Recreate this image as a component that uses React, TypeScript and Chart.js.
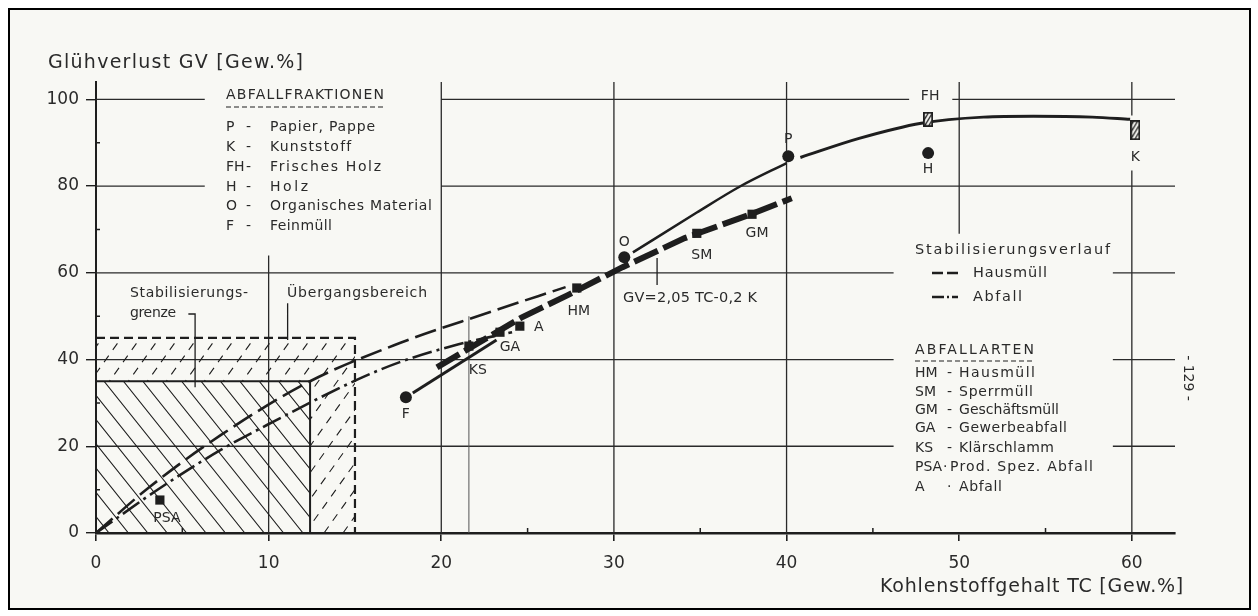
import React, { useEffect, useRef } from 'react';
import { Chart, registerables } from 'chart.js';
Chart.register(...registerables);

const FONT = '"DejaVu Sans", "Liberation Sans", sans-serif';
const INK = '#1e1e1e';
const TEXT = '#2a2a2a';
const PAPER = '#f8f8f4';

// ---- axes ----
const X_MAX = 62.5;
const Y_MAX = 104;
const X_TICKS = [0, 10, 20, 30, 40, 50, 60];
const Y_TICKS = [0, 20, 40, 60, 80, 100];
const X_MINOR = [5, 15, 25, 35, 45, 55];
const Y_MINOR = [10, 30, 50, 70, 90];

// ---- markers ----
const CIRCLE_NAMES = ['P', 'H', 'O', 'F'];
const CIRCLE_TC = [40.1, 48.2, 30.6, 17.95];
const CIRCLE_GV = [86.9, 87.6, 63.6, 31.3];

const SQUARE_NAMES = ['HM', 'SM', 'GM', 'GA', 'A', 'KS', 'PSA'];
const SQUARE_TC = [27.85, 34.8, 38.0, 23.4, 24.55, 21.6, 3.7];
const SQUARE_GV = [56.5, 69.1, 73.5, 46.3, 47.7, 43.1, 7.6];

const HATCH_NAMES = ['FH', 'K'];
const HATCH_TC = [48.2, 60.2];
const HATCH_GV = [95.4, 92.9];

// ---- curves ----
const HAUS_TC = [0, 3.1, 7.2, 12.4, 17.6, 22.4, 27.2];
const HAUS_GV = [0, 10.6, 22.5, 35, 43.8, 50.4, 56.7];

const ABF_TC = [0, 3.5, 7.2, 9.9, 15.1, 17.6, 21, 24.1];
const ABF_GV = [0, 9.8, 19.1, 24.9, 35.3, 39.4, 43.5, 46.3];

const REG_TC = [19.75, 21.25, 24.7, 27.3, 30.5, 34.1, 38, 40.3];
const REG_GV = [38.2, 41.7, 49.8, 54.8, 61.3, 68.0, 73.6, 77.2];

const FGA_TC = [18.35, 23.2];
const FGA_GV = [32.3, 44.5];

const OP_TC = [31.1, 34.8, 37.3, 40.0];
const OP_GV = [64.7, 73.9, 79.9, 85.3];

const PK_TC = [40.8, 44.2, 47.8, 51.4, 54.3, 57.7, 59.9];
const PK_GV = [86.6, 91, 94.5, 95.9, 96.1, 95.9, 95.4];

// ---- regions (TC, GV) ----
const STAB_LIMIT = [12.4, 35];
const TRANS_LIMIT = [15, 45];

// ---- grid segments ----
const H_GRID = [
  [100, 0, 6.3], [100, 20, 47.1], [100, 49.6, 62.5],
  [80, 0, 6.3], [80, 20, 62.5],
  [60, 0, 46.2], [60, 58.9, 62.5],
  [40, 0, 46.2], [40, 58.9, 62.5],
  [20, 0, 46.2], [20, 58.9, 62.5],
];
const V_GRID = [
  [10, 0, 64], [20, 0, 104], [30, 0, 104], [40, 0, 104],
  [50, 69, 104], [60, 0, 83.6], [60, 96.3, 104],
];
const LEADERS = [
  [[5.35, 50.5], [5.74, 50.5], [5.74, 33.6]],
  [[11.1, 53], [11.1, 44.5]],
  [[32.5, 63.4], [32.5, 57.2]],
];
const KS_DROP = [[21.6, 50], [21.6, 0]];

// ---- texts ----
const LABEL_OFFSET: Record<string, number[]> = {
  P: [0, -17], H: [0, 16], O: [0, -15], F: [0, 17],
  HM: [2, 23], SM: [5, 22], GM: [5, 19], GA: [10, 15], A: [19, 1], KS: [9, 24], PSA: [7, 18],
  FH: [2, -23], K: [0, 27],
};

const FRAK_KEYS = ['P', 'K', 'FH', 'H', 'O', 'F'];
const FRAK_DESC = ['Papier, Pappe', 'Kunststoff', 'Frisches Holz', 'Holz', 'Organisches Material', 'Feinmüll'];
const FRAK_W = [105, 81, 111, 38, 162, 62];
const FRAK_Y = [127, 147, 167, 187, 206, 226];

const ART_KEYS = ['HM', 'SM', 'GM', 'GA', 'KS', 'PSA', 'A'];
const ART_DESC = ['Hausmüll', 'Sperrmüll', 'Geschäftsmüll', 'Gewerbeabfall', 'Klärschlamm', 'Prod. Spez. Abfall', 'Abfall'];
const ART_W = [76, 74, 100, 108, 95, 143, 43];
const ART_Y = [373, 392, 410, 428, 448, 467, 487];

function fitText(ctx: any, text: string, x: number, y: number, w: number | null, size: number) {
  ctx.font = `${size}px ${FONT}`;
  ctx.letterSpacing = '0px';
  ctx.textAlign = 'left';
  ctx.textBaseline = 'middle';
  ctx.fillStyle = TEXT;
  if (w) {
    const n = Array.from(text).length;
    const w0 = ctx.measureText(text).width;
    let ls = n > 1 ? (w - w0) / (n - 1) : 0;
    ls = Math.max(-1.5, Math.min(5, ls));
    ctx.letterSpacing = ls + 'px';
  }
  ctx.fillText(text, x, y);
  ctx.letterSpacing = '0px';
}

function hatchCanvas(w: number, h: number) {
  const c = document.createElement('canvas');
  c.width = w; c.height = h;
  const g = c.getContext('2d')!;
  g.fillStyle = PAPER; g.fillRect(0, 0, w, h);
  g.strokeStyle = INK; g.lineWidth = 1.3;
  for (let k = -h; k < w + h; k += 4) {
    g.beginPath(); g.moveTo(k, h); g.lineTo(k + h * 0.6, 0); g.stroke();
  }
  g.lineWidth = 1.8; g.strokeRect(0.9, 0.9, w - 1.8, h - 1.8);
  return c;
}

const pts = (xs: number[], ys: number[]) => xs.map((x, i) => ({ x, y: ys[i] }));

export default function App() {
  const ref = useRef<HTMLCanvasElement>(null);
  useEffect(() => {
    const hatchImgs = [hatchCanvas(10, 15), hatchCanvas(10, 20)];

    const paper = {
      id: 'paper',
      beforeDraw(chart: any) {
        const ctx = chart.ctx;
        ctx.save();
        ctx.fillStyle = '#ffffff';
        ctx.fillRect(0, 0, chart.width, chart.height);
        ctx.fillStyle = PAPER;
        ctx.fillRect(9, 9, 1241, 600);
        ctx.strokeStyle = '#000';
        ctx.lineWidth = 2;
        ctx.strokeRect(9, 9, 1241, 600);
        ctx.restore();
      },
    };

    const annot = {
      id: 'annot',
      beforeDatasetsDraw(chart: any) {
        const ctx = chart.ctx;
        const xs = chart.scales.x, ys = chart.scales.y;
        const X = (v: number) => xs.getPixelForValue(v);
        const Y = (v: number) => ys.getPixelForValue(v);
        ctx.save();
        // grid
        ctx.strokeStyle = '#2a2a2a';
        ctx.lineWidth = 1.3;
        ctx.beginPath();
        H_GRID.forEach(([y, a, b]) => { ctx.moveTo(X(a), Y(y)); ctx.lineTo(X(b), Y(y)); });
        V_GRID.forEach(([x, a, b]) => { ctx.moveTo(X(x), Y(a)); ctx.lineTo(X(x), Y(b)); });
        ctx.stroke();
        ctx.lineWidth = 1;
        ctx.strokeStyle = '#555';
        ctx.beginPath();
        ctx.moveTo(X(KS_DROP[0][0]), Y(KS_DROP[0][1]));
        ctx.lineTo(X(KS_DROP[1][0]), Y(KS_DROP[1][1]));
        ctx.stroke();

        // hatched regions
        const x0 = X(0), x1 = X(STAB_LIMIT[0]), x2 = X(TRANS_LIMIT[0]);
        const yb = Y(0), y35 = Y(STAB_LIMIT[1]), y45 = Y(TRANS_LIMIT[1]);
        ctx.strokeStyle = INK;
        ctx.save();
        ctx.beginPath(); ctx.rect(x0, y35, x1 - x0, yb - y35); ctx.clip();
        ctx.lineWidth = 1.1;
        ctx.beginPath();
        const hIn = yb - y35;
        for (let k = -30; k < 30; k++) {
          const sx = x0 + 8 + k * 19.4;
          ctx.moveTo(sx, y35); ctx.lineTo(sx + hIn / 1.25, yb);
        }
        ctx.stroke();
        ctx.restore();

        ctx.save();
        ctx.beginPath();
        ctx.rect(x0, y45, x2 - x0, yb - y45);
        ctx.rect(x0, y35, x1 - x0, yb - y35);
        ctx.clip('evenodd');
        ctx.lineWidth = 1.1;
        ctx.setLineDash([8, 7]);
        ctx.beginPath();
        const hOut = yb - y45;
        for (let k = -20; k < 30; k++) {
          const sx = x0 + k * 19;
          ctx.moveTo(sx, yb); ctx.lineTo(sx + hOut / 1.4, y45);
        }
        ctx.stroke();
        ctx.restore();

        ctx.lineWidth = 2;
        ctx.beginPath();
        ctx.moveTo(x0, y35); ctx.lineTo(x1, y35); ctx.lineTo(x1, yb);
        ctx.stroke();
        ctx.setLineDash([9, 5]);
        ctx.lineWidth = 2.2;
        ctx.beginPath();
        ctx.moveTo(x0, y45); ctx.lineTo(x2, y45); ctx.lineTo(x2, yb);
        ctx.stroke();
        ctx.setLineDash([]);

        // leaders
        ctx.lineWidth = 1.3;
        ctx.beginPath();
        LEADERS.forEach((seg) => {
          seg.forEach(([a, b], i) => (i === 0 ? ctx.moveTo(X(a), Y(b)) : ctx.lineTo(X(a), Y(b))));
        });
        ctx.stroke();

        // minor ticks
        ctx.lineWidth = 1.5;
        ctx.beginPath();
        X_MINOR.forEach((v) => { ctx.moveTo(X(v), Y(0)); ctx.lineTo(X(v), Y(0) - 5); });
        Y_MINOR.forEach((v) => { ctx.moveTo(X(0), Y(v)); ctx.lineTo(X(0) + 4, Y(v)); });
        ctx.stroke();
        ctx.restore();
      },
      afterDatasetsDraw(chart: any) {
        const ctx = chart.ctx;
        const xs = chart.scales.x, ys = chart.scales.y;
        const X = (v: number) => xs.getPixelForValue(v);
        const Y = (v: number) => ys.getPixelForValue(v);
        ctx.save();
        // point labels
        ctx.font = `14px ${FONT}`;
        ctx.fillStyle = TEXT;
        ctx.textAlign = 'center';
        ctx.textBaseline = 'middle';
        const lab = (names: string[], tx: number[], gv: number[]) =>
          names.forEach((n, i) => {
            const o = LABEL_OFFSET[n] || [0, 0];
            ctx.fillText(n, X(tx[i]) + o[0], Y(gv[i]) + o[1]);
          });
        lab(CIRCLE_NAMES, CIRCLE_TC, CIRCLE_GV);
        lab(SQUARE_NAMES, SQUARE_TC, SQUARE_GV);
        lab(HATCH_NAMES, HATCH_TC, HATCH_GV);

        // titles
        fitText(ctx, 'Glühverlust GV [Gew.%]', 48, 63, 255, 19);
        fitText(ctx, 'Kohlenstoffgehalt TC [Gew.%]', 880, 587, 303, 19);

        // in-plot texts
        fitText(ctx, 'Stabilisierungs-', 130, 293, 118, 14);
        fitText(ctx, 'grenze', 130, 313, 46, 14);
        fitText(ctx, 'Übergangsbereich', 287, 293, 140, 14);
        fitText(ctx, 'GV=2,05 TC-0,2 K', 623, 298, 134, 14.5);

        // legend: Abfallfraktionen
        fitText(ctx, 'ABFALLFRAKTIONEN', 226, 95, 158, 14);
        ctx.strokeStyle = INK;
        ctx.lineWidth = 1.2;
        ctx.setLineDash([5, 3]);
        ctx.beginPath(); ctx.moveTo(226, 107); ctx.lineTo(386, 107);
        ctx.moveTo(915, 361); ctx.lineTo(1034, 361); ctx.stroke();
        ctx.setLineDash([]);
        FRAK_KEYS.forEach((k, i) => {
          fitText(ctx, k, 226, FRAK_Y[i], null, 14);
          fitText(ctx, '-', 246, FRAK_Y[i], null, 14);
          fitText(ctx, FRAK_DESC[i], 270, FRAK_Y[i], FRAK_W[i], 14);
        });

        // legend: Stabilisierungsverlauf
        fitText(ctx, 'Stabilisierungsverlauf', 915, 250, 195, 14.5);
        ctx.lineWidth = 2.5;
        ctx.beginPath();
        ctx.moveTo(932, 273); ctx.lineTo(943, 273);
        ctx.moveTo(947, 273); ctx.lineTo(958, 273);
        ctx.moveTo(932, 297); ctx.lineTo(944, 297);
        ctx.moveTo(947, 297); ctx.lineTo(949, 297);
        ctx.moveTo(952, 297); ctx.lineTo(958, 297);
        ctx.stroke();
        fitText(ctx, 'Hausmüll', 973, 273, 74, 14.5);
        fitText(ctx, 'Abfall', 973, 297, 49, 14.5);

        // legend: Abfallarten
        fitText(ctx, 'ABFALLARTEN', 915, 350, 119, 14);
        ART_KEYS.forEach((k, i) => {
          const isP = k === 'PSA';
          fitText(ctx, k, 915, ART_Y[i], null, 14);
          fitText(ctx, isP || k === 'A' ? '·' : '-', isP ? 943 : 947, ART_Y[i], null, 14);
          fitText(ctx, ART_DESC[i], isP ? 950 : 959, ART_Y[i], ART_W[i], 14);
        });

        // page number
        ctx.translate(1188, 378);
        ctx.rotate(Math.PI / 2);
        ctx.font = `14px ${FONT}`;
        ctx.textAlign = 'center';
        ctx.fillText('- 129 -', 0, 0);
        ctx.restore();
      },
    };

    const chart = new Chart(ref.current!, {
      type: 'scatter',
      data: {
        datasets: [
          {
            data: pts(HATCH_TC, HATCH_GV),
            pointStyle: hatchImgs as any,
            pointRadius: 8,
          },
          {
            data: pts(CIRCLE_TC, CIRCLE_GV),
            pointStyle: 'circle',
            pointRadius: 6,
            backgroundColor: INK,
            borderWidth: 0,
          },
          {
            data: pts(SQUARE_TC, SQUARE_GV),
            pointStyle: 'rect',
            pointRadius: 6.5,
            backgroundColor: INK,
            borderWidth: 0,
          },
          {
            data: pts(REG_TC, REG_GV),
            showLine: true, pointRadius: 0, borderColor: INK, borderWidth: 6,
            borderDash: [26, 6], borderCapStyle: 'butt', tension: 0,
          },
          {
            data: pts(FGA_TC, FGA_GV),
            showLine: true, pointRadius: 0, borderColor: INK, borderWidth: 3,
          },
          {
            data: pts(OP_TC, OP_GV),
            showLine: true, pointRadius: 0, borderColor: INK, borderWidth: 2.5,
            cubicInterpolationMode: 'monotone',
          },
          {
            data: pts(PK_TC, PK_GV),
            showLine: true, pointRadius: 0, borderColor: INK, borderWidth: 3,
            cubicInterpolationMode: 'monotone',
          },
          {
            data: pts(HAUS_TC, HAUS_GV),
            showLine: true, pointRadius: 0, borderColor: INK, borderWidth: 2.6,
            borderDash: [22, 7], cubicInterpolationMode: 'monotone',
          },
          {
            data: pts(ABF_TC, ABF_GV),
            showLine: true, pointRadius: 0, borderColor: INK, borderWidth: 2.6,
            borderDash: [20, 5, 3, 5], cubicInterpolationMode: 'monotone',
          },
        ] as any,
      },
      options: {
        responsive: false,
        animation: false,
        devicePixelRatio: 1,
        layout: { padding: { top: 82, right: 83, left: 0, bottom: 0 } },
        plugins: { legend: { display: false }, tooltip: { enabled: false } },
        scales: {
          x: {
            type: 'linear', min: 0, max: X_MAX,
            afterFit: (s: any) => { s.height = 83; },
            afterBuildTicks: (s: any) => { s.ticks = X_TICKS.map((v) => ({ value: v })); },
            grid: { display: true, drawOnChartArea: false, drawTicks: true, tickLength: 8, color: INK, tickColor: INK, lineWidth: 1.6 },
            border: { display: true, color: INK, width: 2.6 },
            ticks: { color: TEXT, font: { family: FONT, size: 17 }, padding: 12, maxRotation: 0, autoSkip: false },
          },
          y: {
            type: 'linear', min: 0, max: Y_MAX,
            afterFit: (s: any) => { s.width = 96; },
            afterBuildTicks: (s: any) => { s.ticks = Y_TICKS.map((v) => ({ value: v })); },
            grid: { display: true, drawOnChartArea: false, drawTicks: true, tickLength: 10, color: INK, tickColor: INK, lineWidth: 1.4 },
            border: { display: true, color: INK, width: 2 },
            ticks: { color: TEXT, font: { family: FONT, size: 17 }, padding: 7, autoSkip: false },
          },
        },
      } as any,
      plugins: [paper, annot],
    });
    return () => chart.destroy();
  }, []);

  return (
    <div style={{ position: 'fixed', left: 0, top: 0, width: 1258, height: 616, background: '#fff' }}>
      <canvas ref={ref} width={1258} height={616} style={{ display: 'block', width: 1258, height: 616 }} />
    </div>
  );
}
